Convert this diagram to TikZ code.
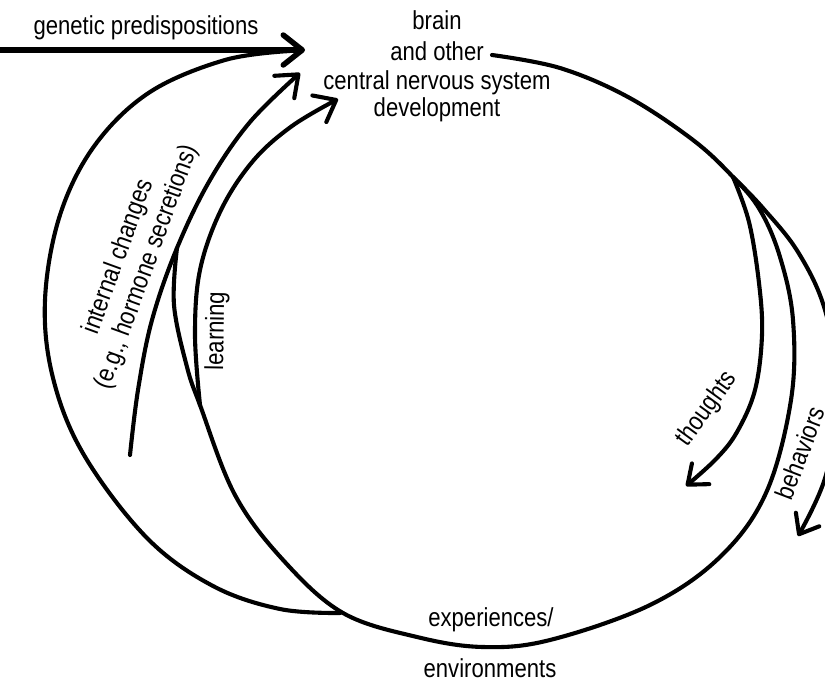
\documentclass[tikz,border=0pt]{standalone}
\usepackage{fontspec}
\setmainfont{Liberation Sans}[FakeStretch=0.85]
\usetikzlibrary{arrows.meta}
\begin{document}
\begin{tikzpicture}[x=1pt,y=-1pt]
\tikzset{
  lbl/.style={font=\fontsize{26}{30}\selectfont, inner sep=0pt},
  curve/.style={line width=4.1pt, line cap=round, line join=round},
  barb/.style={-{Straight Barb[length=19pt,width=30pt,round]}},
  barbs/.style={-{Straight Barb[length=17pt,width=27pt,round]}},
}
\useasboundingbox (0,0) rectangle (825,681);
\fill[white] (0,0) rectangle (825,681);

% labels
\node[lbl, anchor=base] (gen) at (146,34) {genetic predispositions};
\node[lbl, anchor=base] (b1) at (437,29) {brain};
\node[lbl, anchor=base] (b2) at (437,60) {and other};
\node[lbl, anchor=base] (b3) at (437,89) {central nervous system};
\node[lbl, anchor=base] (b4) at (437,116) {development};
\node[lbl, align=center, rotate=70] (intl) at (133,262) {internal changes\\(e.g., hormone secretions)};
\node[lbl, rotate=89] (learn) at (217,331) {learning};
\node[lbl, rotate=54] (thou) at (707,409) {thoughts};
\node[lbl, rotate=69] (behv) at (800,453) {behaviors};
\node[lbl, anchor=base] (exp) at (491,626) {experiences/};
\node[lbl, anchor=base] (env) at (490,677) {environments};

% key points
\coordinate (gstart) at (0,50);
\coordinate (gtip) at (305,50);
\coordinate (cstart) at (492,55);
\coordinate (branch) at (733,177);
\coordinate (cmerge) at (177,248);
\coordinate (lmerge) at (200,405);
\coordinate (omerge) at (340,613);
\coordinate (itail) at (130,455);
\coordinate (itip) at (300,73);
\coordinate (ltip) at (338,99);
\coordinate (ttip) at (686,486);
\coordinate (btip) at (798,536);

% genetic predispositions arrow
\draw[line width=5.5pt, line cap=round, barb] (gstart) -- (gtip);

% main circle
\draw[curve] plot[smooth, tension=0.6] coordinates {(cstart) (560,68) (628,97) (693,140) (branch) (760,210) (780,257) (793,320) (791,400) (766,493) (720,557) (650,605) (550,640) (483,647) (417,637) (343,613) (284,561) (235,495) (lmerge) (187,367) (174,305) (cmerge)};

% outer loop (experiences back to genetic arrow)
\draw[curve] plot[smooth, tension=0.6] coordinates {(omerge) (280,609) (213,586) (147,538) (84,455) (53,378) (45,300) (60,215) (95,145) (150,92) (225,60) (290,51)};

% internal changes arrow
\draw[curve, barb] plot[smooth, tension=0.6] coordinates {(itail) (138,390) (152,320) (cmerge) (210,180) (250,122) (itip)};

% learning arrow
\draw[curve, barb] plot[smooth, tension=0.6] coordinates {(lmerge) (195,335) (200,270) (221,210) (253,161) (292,126) (ltip)};

% thoughts arrow
\draw[curve, barbs] plot[smooth, tension=0.6] coordinates {(branch) (749,222) (759,283) (762,335) (755,390) (737,432) (716,459) (ttip)};

% behaviors arrow
\draw[curve, barbs] plot[smooth, tension=0.6] coordinates {(branch) (762,207) (798,252) (825,310) (838,390) (826,475) (btip)};
\end{tikzpicture}
\end{document}
